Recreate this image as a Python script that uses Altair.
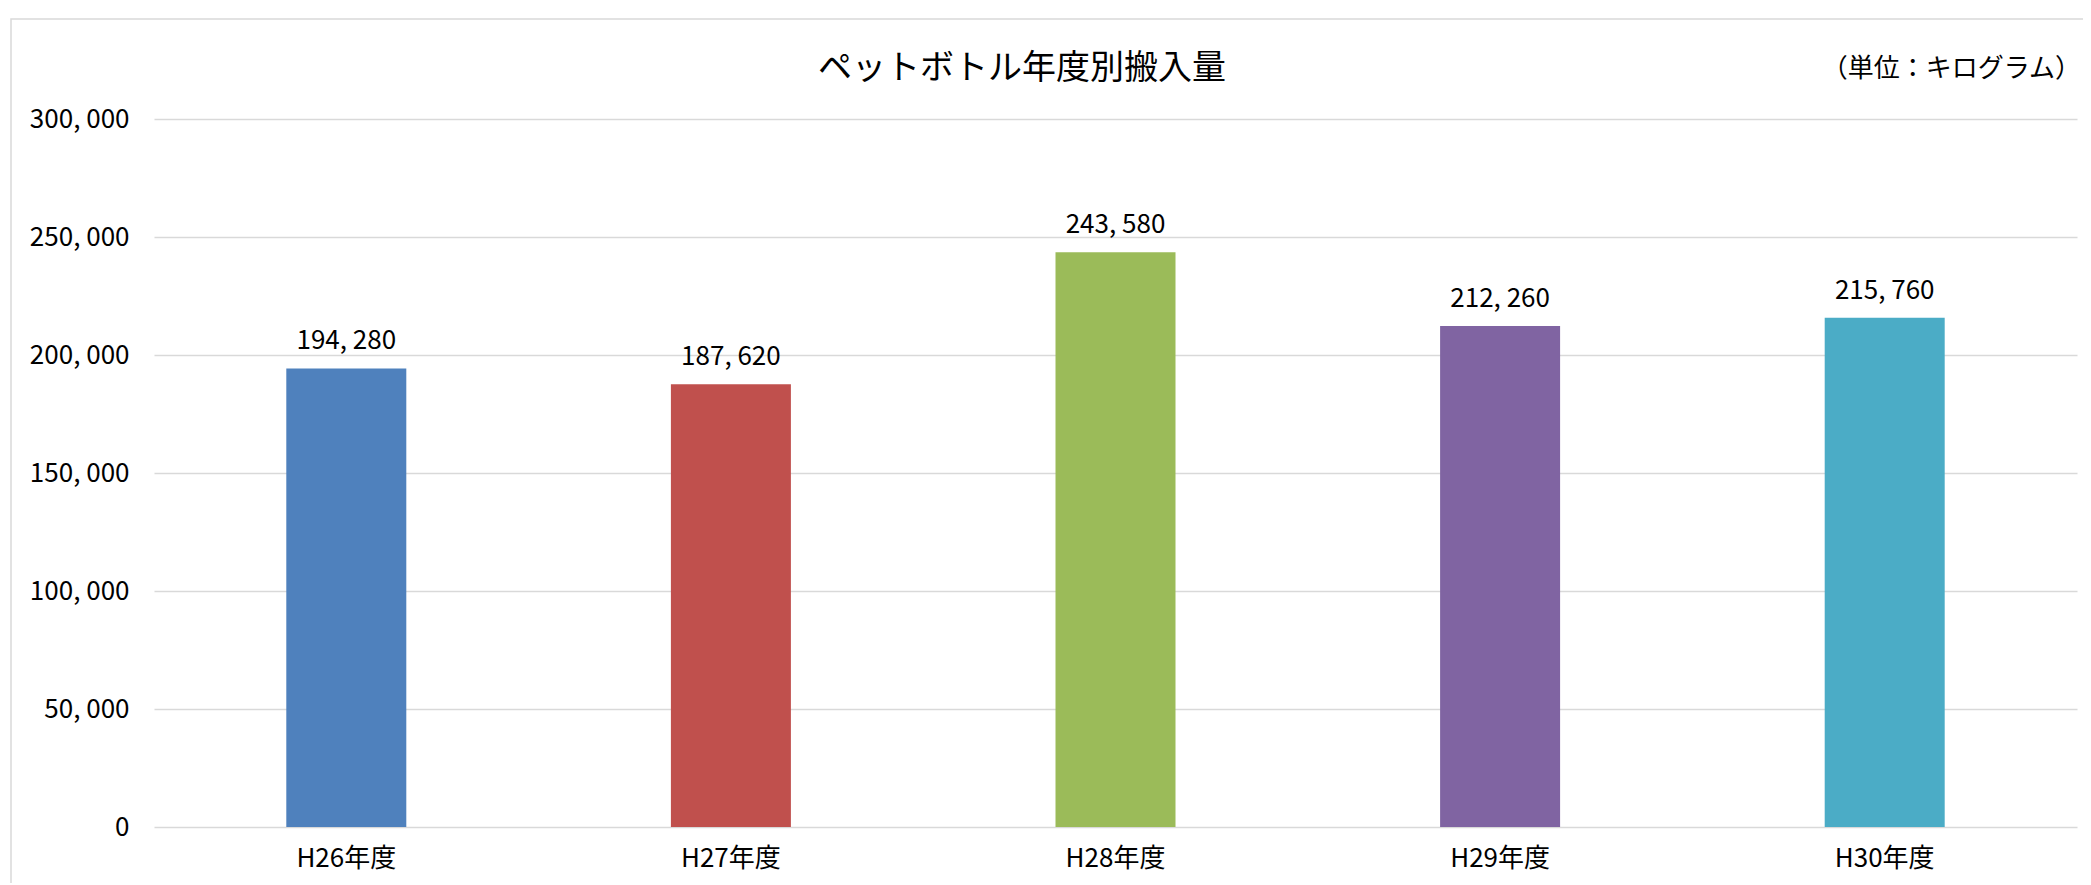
import altair as alt
import pandas as pd

# ---- data ----
years = ["H26年度", "H27年度", "H28年度", "H29年度", "H30年度"]
values = [194280, 187620, 243580, 212260, 215760]
colors = ["#4F81BD", "#C0504D", "#9BBB59", "#8064A2", "#4BACC6"]
y_ticks = [0, 50000, 100000, 150000, 200000, 250000, 300000]
title_text = "ペットボトル年度別搬入量"
unit_text = "（単位：キログラム）"

FONT = "Noto Sans CJK JP"
GRID = "#d9d9d9"

df = pd.DataFrame({"year": years, "value": values})
txt_df = pd.DataFrame({"t": [title_text], "u": [unit_text]})

x_enc = alt.X(
    "year:N",
    sort=years,
    scale=alt.Scale(paddingInner=0, paddingOuter=0),
    axis=alt.Axis(
        title=None, labelAngle=0, ticks=False, domain=False, grid=False,
        labelFontSize=26, labelFont=FONT, labelColor="#000000", labelPadding=18,
    ),
)
y_enc = alt.Y(
    "value:Q",
    scale=alt.Scale(domain=[0, 300000], nice=False),
    axis=alt.Axis(
        title=None, values=y_ticks, ticks=False, domain=False,
        grid=True, gridColor=GRID, gridWidth=1.5,
        labelFontSize=26, labelFont=FONT, labelColor="#000000", labelPadding=25,
        labelExpr="replace(format(datum.value, ','), ',', ', ')",
    ),
)

base = alt.Chart(df)

bars = base.mark_bar(size=120).encode(
    x=x_enc,
    y=y_enc,
    color=alt.Color("year:N", scale=alt.Scale(domain=years, range=colors), legend=None),
)

labels = base.transform_calculate(
    lbl="replace(format(datum.value, ','), ',', ', ')"
).mark_text(
    dy=-19, baseline="alphabetic", fontSize=26, font=FONT, color="#000000"
).encode(
    x=alt.X("year:N", sort=years),
    y=alt.Y("value:Q"),
    text="lbl:N",
)

frame = alt.Chart(txt_df).mark_rect(
    filled=False, stroke=GRID, strokeWidth=1.5
).encode(
    x=alt.value(-143), x2=alt.value(1960), y=alt.value(-100), y2=alt.value(800)
)

title = alt.Chart(txt_df).mark_text(
    fontSize=34, font=FONT, color="#000000", align="center", baseline="middle"
).encode(x=alt.value(868), y=alt.value(-50), text="t:N")

unit = alt.Chart(txt_df).mark_text(
    fontSize=26, font=FONT, color="#000000", align="right", baseline="middle"
).encode(x=alt.value(1927), y=alt.value(-50), text="u:N")

chart = alt.layer(frame, bars, labels, title, unit).properties(
    width=1923,
    height=708,
    padding={"left": 146, "top": 111, "right": 6, "bottom": 56},
    autosize=alt.AutoSizeParams(type="none"),
).configure_view(stroke=None)

chart.save("out.html", embed_options={"renderer": "svg", "actions": False})
